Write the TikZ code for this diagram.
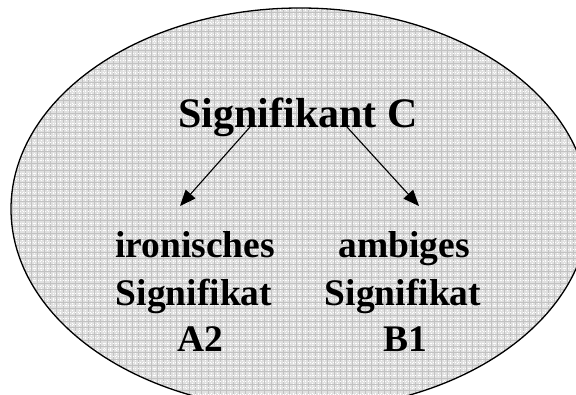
\documentclass[tikz,border=0pt]{standalone}
\usepackage{fontspec}
\setmainfont{Liberation Serif}
\usetikzlibrary{arrows.meta}
\begin{document}
\begin{tikzpicture}[x=1pt,y=-1pt,
  big/.style={font=\bfseries\fontsize{42}{47}\selectfont, inner sep=0pt, anchor=base},
  sm/.style={font=\bfseries\fontsize{37.5}{47}\selectfont, inner sep=0pt, anchor=base},
  arr/.style={line width=1.1pt, -{Triangle[length=16pt,width=13pt]}}]
\useasboundingbox (0,0) rectangle (576,394);
\begin{scope}
  \clip (0,0) rectangle (576,394);
  \fill[gray!24] (300,209) ellipse [x radius=289, y radius=201];
  \begin{scope}
    \clip (300,209) ellipse [x radius=289, y radius=201];
    \foreach \i in {0,...,95} {
      \draw[gray!48, line width=0.8pt] (\i*6.3,0) -- (\i*6.3,394);
      \draw[white, line width=0.5pt, dotted] (\i*6.3+3.15,0) -- (\i*6.3+3.15,394);
    }
    \foreach \j in {0,...,65} {
      \draw[gray!48, line width=0.8pt] (0,\j*6.3) -- (576,\j*6.3);
      \draw[white, line width=0.5pt, dotted] (0,\j*6.3+3.15) -- (576,\j*6.3+3.15);
    }
  \end{scope}
  \draw[line width=1.3pt] (300,209) ellipse [x radius=289, y radius=201];
\end{scope}
\node[big] (top) at (298,127) {Signifikant C};
\node[sm] (l1) at (195,257) {ironisches};
\node[sm] (l2) at (194,305) {Signifikat};
\node[sm] (l3) at (200,351) {A2};
\node[sm] (r1) at (404,257) {ambiges};
\node[sm] (r2) at (403,305) {Signifikat};
\node[sm] (r3) at (405,351) {B1};
\coordinate (sa) at (250,127);
\coordinate (ea) at (180,206);
\coordinate (sb) at (347,127);
\coordinate (eb) at (419,206);
\draw[arr] (sa) -- (ea);
\draw[arr] (sb) -- (eb);
\end{tikzpicture}
\end{document}
